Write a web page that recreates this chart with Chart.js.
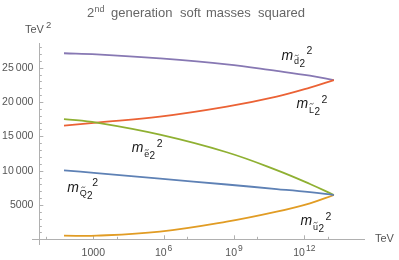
<!DOCTYPE html>
<html>
<head>
<meta charset="utf-8">
<script src="https://cdn.jsdelivr.net/npm/chart.js@4.4.1/dist/chart.umd.min.js"></script>
<style>
  html, body { margin: 0; padding: 0; background: #fff; }
</style>
</head>
<body>
<canvas id="chart" width="399" height="260"></canvas>
<script>
// renormalisation scale, log10(Q / TeV), of the read points
const logScale = [1.75, 3.14, 5.84, 8.69, 10.82, 12.24, 13.26];
// soft masses squared in TeV^2
const mQ2 = [10050, 9640, 8840, 7980, 7320, 6860, 6450];
const mU2 = [530, 530, 1110, 2560, 4020, 5240, 6450];
const mE2 = [17520, 16990, 15240, 12680, 10080, 8060, 6450];
const mL2 = [16550, 16990, 17860, 19320, 20780, 22090, 23200];
const mD2 = [27100, 26950, 26360, 25490, 24520, 23830, 23200];

const xTicks = [1e3, 1e6, 1e9, 1e12];
const xTickLabels = ["1000", "10^6", "10^9", "10^12"];
const xMinorTicks = [1e1, 1e4, 1e7, 1e10, 1e13];
const yTicks = [5000, 10000, 15000, 20000, 25000];
const yTickLabels = ["5000", "10\u2009000", "15\u2009000", "20\u2009000", "25\u2009000"];

const FONT = '"Liberation Sans", Arial, sans-serif';
const axisGray = '#b0b0b0';
const textGray = '#555';

function pts(vals) {
  return vals.map(function (v, i) { return { x: Math.pow(10, logScale[i]), y: v }; });
}

function series(label, vals, color) {
  return {
    label: label,
    data: pts(vals),
    borderColor: color,
    borderWidth: 1.8,
    pointRadius: 0,
    fill: false,
    tension: 0.4,
  };
}

// curve labels, placed in data coordinates [x, y, subscript letter]
const curveLabels = [
  [Math.pow(10, 11.03), 26118, 'd'],
  [Math.pow(10, 11.67), 19082, 'L'],
  [Math.pow(10, 4.64), 12673, 'e'],
  [Math.pow(10, 1.89), 6934, 'Q'],
  [Math.pow(10, 11.84), 2083, 'u'],
];

function powText(ctx, base, exp, cx, baseline) {
  ctx.font = '10.5px ' + FONT;
  const wb = ctx.measureText(base).width;
  ctx.font = '8.5px ' + FONT;
  const we = exp ? ctx.measureText(exp).width + 1 : 0;
  const left = cx - (wb + we) / 2;
  ctx.textAlign = 'left';
  ctx.font = '10.5px ' + FONT;
  ctx.fillText(base, left, baseline);
  if (exp) {
    ctx.font = '8.5px ' + FONT;
    ctx.fillText(exp, left + wb + 1, baseline - 4.5);
  }
}

function massLabel(ctx, x, y, letter) {
  ctx.fillStyle = '#1a1a1a';
  ctx.textAlign = 'left';
  ctx.textBaseline = 'alphabetic';
  ctx.font = 'italic 14px ' + FONT;
  ctx.fillText('m', x, y);
  ctx.font = '9px ' + FONT;
  const lx = x + 12.5;
  ctx.fillText(letter, lx, y + 4.5);
  const lw = ctx.measureText(letter).width;
  // tilde over the subscript letter
  const top = (letter === 'L' || letter === 'Q' || letter === 'd') ? y - 4.5 : y - 2.3;
  ctx.strokeStyle = '#1a1a1a';
  ctx.lineWidth = 0.7;
  ctx.beginPath();
  const cx = lx + lw / 2;
  ctx.moveTo(cx - 2, top + 0.6);
  ctx.quadraticCurveTo(cx - 1, top - 0.8, cx, top);
  ctx.quadraticCurveTo(cx + 1, top + 0.8, cx + 2, top - 0.6);
  ctx.stroke();
  ctx.font = '10px ' + FONT;
  ctx.fillText('2', lx + lw + 0.3, y + 7);
  ctx.font = '10.5px ' + FONT;
  ctx.fillText('2', x + 25, y - 5.5);
}

const axesPlugin = {
  id: 'mmaAxes',
  beforeDatasetsDraw(chart) {
    const ctx = chart.ctx;
    const xs = chart.scales.x, ys = chart.scales.y;
    const area = chart.chartArea;
    const x0 = xs.getPixelForValue(5);
    const y0 = ys.getPixelForValue(0);
    ctx.save();
    ctx.strokeStyle = axisGray;
    ctx.lineWidth = 1;
    ctx.beginPath();
    ctx.moveTo(area.left, Math.round(y0) + 0.5);
    ctx.lineTo(area.right, Math.round(y0) + 0.5);
    ctx.moveTo(Math.round(x0) + 0.5, area.top);
    ctx.lineTo(Math.round(x0) + 0.5, area.bottom);
    // x ticks
    xTicks.forEach(function (v) {
      const px = Math.round(xs.getPixelForValue(v)) + 0.5;
      ctx.moveTo(px, y0);
      ctx.lineTo(px, y0 - 4);
    });
    xMinorTicks.forEach(function (v) {
      const px = Math.round(xs.getPixelForValue(v)) + 0.5;
      ctx.moveTo(px, y0);
      ctx.lineTo(px, y0 - 2.5);
    });
    // y ticks, every 1000
    for (let v = 1000; v <= 28000; v += 1000) {
      const py = Math.round(ys.getPixelForValue(v)) + 0.5;
      const len = v % 5000 === 0 ? 4 : 2.5;
      ctx.moveTo(x0, py);
      ctx.lineTo(x0 + len, py);
    }
    ctx.stroke();

    ctx.fillStyle = textGray;
    ctx.textBaseline = 'alphabetic';
    xTicks.forEach(function (v, i) {
      const parts = xTickLabels[i].split('^');
      powText(ctx, parts[0], parts[1], xs.getPixelForValue(v), 255.5);
    });
    ctx.font = '10.5px ' + FONT;
    ctx.textAlign = 'right';
    ctx.textBaseline = 'middle';
    yTicks.forEach(function (v, i) {
      ctx.fillText(yTickLabels[i], x0 - 6, ys.getPixelForValue(v));
    });

    // axis titles
    ctx.textAlign = 'left';
    ctx.textBaseline = 'alphabetic';
    ctx.font = '11px ' + FONT;
    ctx.fillText('TeV', 25, 33);
    ctx.font = '9.5px ' + FONT;
    ctx.fillText('2', 46, 27.5);
    ctx.font = '11px ' + FONT;
    ctx.textBaseline = 'middle';
    ctx.fillText('TeV', 375, y0);

    // title
    ctx.fillStyle = '#666';
    ctx.textBaseline = 'alphabetic';
    ctx.font = '13px ' + FONT;
    ctx.fillText('2', 87, 17);
    ctx.font = '9px ' + FONT;
    ctx.fillText('nd', 94.5, 11.5);
    ctx.font = '13px ' + FONT;
    ctx.fillText('generation', 111, 17);
    ctx.fillText('soft', 180, 17);
    ctx.fillText('masses', 206, 17);
    ctx.fillText('squared', 258, 17);
    ctx.restore();
  },
  afterDraw(chart) {
    const ctx = chart.ctx;
    const xs = chart.scales.x, ys = chart.scales.y;
    ctx.save();
    curveLabels.forEach(function (l) {
      massLabel(ctx, xs.getPixelForValue(l[0]), ys.getPixelForValue(l[1]), l[2]);
    });
    ctx.restore();
  },
};

new Chart(document.getElementById('chart').getContext('2d'), {
  type: 'line',
  data: {
    datasets: [
      series('mQ2', mQ2, '#5e81b5'),
      series('mu2', mU2, '#e19c24'),
      series('me2', mE2, '#8fb032'),
      series('mL2', mL2, '#eb6235'),
      series('md2', mD2, '#8778b3'),
    ],
  },
  options: {
    responsive: false,
    animation: false,
    layout: { padding: { left: 32, right: 34, top: 43, bottom: 15 } },
    plugins: {
      legend: { display: false },
      tooltip: { enabled: false },
    },
    scales: {
      x: {
        type: 'logarithmic',
        display: false,
        min: Math.pow(10, 0.386),
        max: Math.pow(10, 14.587),
      },
      y: {
        type: 'linear',
        display: false,
        min: -830,
        max: 28594,
      },
    },
  },
  plugins: [axesPlugin],
});
</script>
</body>
</html>
